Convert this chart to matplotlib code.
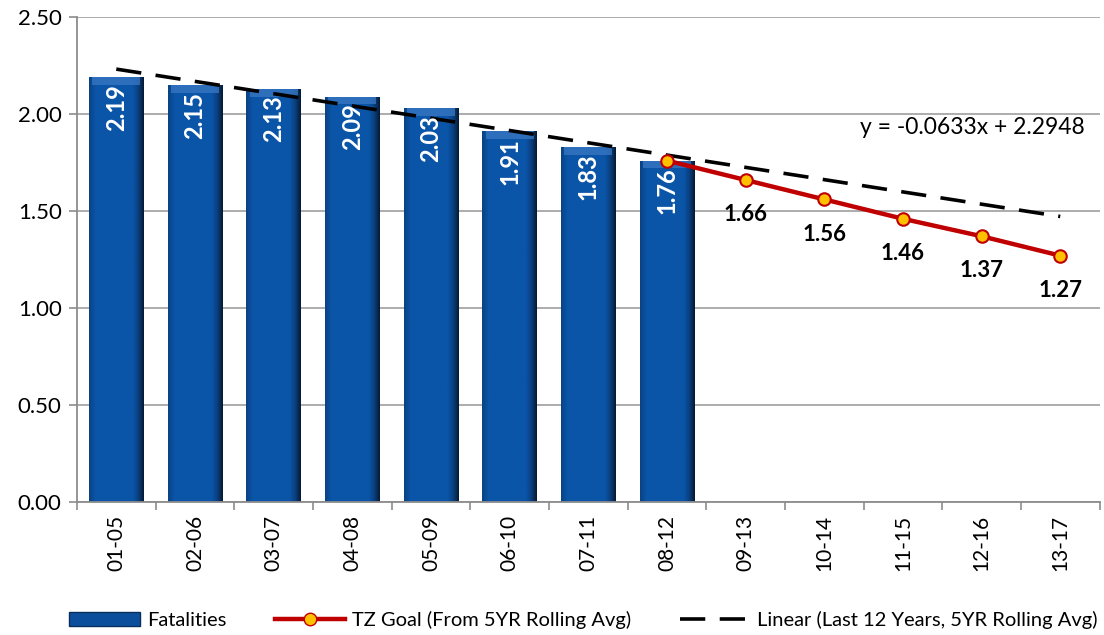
import numpy as np
import matplotlib
matplotlib.use("Agg")
import matplotlib.pyplot as plt
from matplotlib.patches import Rectangle
from matplotlib.lines import Line2D

plt.rcParams['font.family'] = ['Lato', 'DejaVu Sans']

categories = ["01-05", "02-06", "03-07", "04-08", "05-09", "06-10", "07-11",
              "08-12", "09-13", "10-14", "11-15", "12-16", "13-17"]
fatalities = [2.19, 2.15, 2.13, 2.09, 2.03, 1.91, 1.83, 1.76]
goal_labels = ["08-12", "09-13", "10-14", "11-15", "12-16", "13-17"]
goal_values = [1.76, 1.66, 1.56, 1.46, 1.37, 1.27]
trend_slope = -0.0633
trend_intercept = 2.2948
trend_text = "y = -0.0633x + 2.2948"

fig = plt.figure(figsize=(11.04, 6.35), dpi=100)
ax = fig.add_axes([0.0697, 0.2094, 0.9263, 0.7638])

x_all = np.arange(len(categories))
xb = np.arange(len(fatalities))
bw = 0.69
bars = ax.bar(xb, fatalities, width=bw, color="#0B55A8", zorder=2)

# gradient shading on the bars
g = np.linspace(0, 1, 200)
prof = np.ones_like(g)
prof = np.where(g < 0.12, 0.55 + 0.45 * g / 0.12, prof)
prof = np.where(g > 0.8, 1 - (g - 0.8) / 0.2, prof)
cmap = matplotlib.colors.LinearSegmentedColormap.from_list(
    "b", ["#051A33", "#0A3F7E", "#0B55A8"])
for b in bars:
    x0, w, h = b.get_x(), b.get_width(), b.get_height()
    im = ax.imshow(prof[np.newaxis, :], cmap=cmap, aspect="auto",
                   extent=[x0, x0 + w, 0, h], zorder=2.1, vmin=0, vmax=1,
                   interpolation="bilinear")
    im.set_clip_path(b)
    ax.add_patch(Rectangle((x0 + 0.04, h - 0.04), w - 0.08, 0.04,
                           facecolor="#3A78C4", edgecolor="none", zorder=2.2, alpha=0.75))

for xi, v in zip(xb, fatalities):
    ax.text(xi, v - 0.035, f"{v:.2f}", rotation=90, ha="center", va="top",
            color="white", fontsize=17, fontweight="bold", zorder=5)

# goal line
gx = [categories.index(c) for c in goal_labels]
ax.plot(gx, goal_values, color="#C00000", lw=3.2, marker="o", markersize=9,
        markerfacecolor="#FFC000", markeredgecolor="#C00000", markeredgewidth=1.5,
        zorder=4)
for xi, v in zip(gx[1:], goal_values[1:]):
    ax.annotate(f"{v:.2f}", (xi, v), xytext=(0, -25), textcoords="offset points",
                ha="center", va="center", fontsize=16, fontweight="bold", color="black",
                zorder=5)

# trendline
tx = np.array([x_all[0], x_all[-1]])
ty = trend_slope * (tx + 1) + trend_intercept
ax.plot(tx, ty, color="black", lw=2.6, dashes=(7, 4), zorder=3)
ax.text(12.31, 1.93, trend_text, ha="right", va="center", fontsize=16.5,
        color="black", zorder=3.5)

ax.set_xlim(-0.5, len(categories) - 0.5)
ax.set_ylim(0, 2.5)
ax.set_yticks(np.arange(0, 2.51, 0.5))
ax.set_yticklabels([f"{v:.2f}" for v in np.arange(0, 2.51, 0.5)], fontsize=16)
ax.set_xticks(x_all)
ax.set_xticklabels(categories, rotation=90, fontsize=15)
ax.set_xticks(np.arange(-0.5, len(categories), 1), minor=True)
ax.tick_params(axis="x", which="major", length=0, pad=9)
ax.tick_params(axis="x", which="minor", length=6, color="#8C8C8C", width=1.2)
ax.tick_params(axis="y", length=6, color="#8C8C8C", width=1.2, pad=5)
ax.yaxis.grid(True, color="#A6A6A6", lw=1.3, zorder=0)
ax.set_axisbelow(True)
for s in ["top", "right"]:
    ax.spines[s].set_visible(False)
for s in ["left", "bottom"]:
    ax.spines[s].set_color("#8C8C8C")
    ax.spines[s].set_linewidth(1.3)

h1 = Rectangle((0, 0), 1, 1, facecolor="#0B4F9C", edgecolor="#0A2E5C")
h2 = Line2D([], [], color="#C00000", lw=3.2, marker="o", markersize=9,
            markerfacecolor="#FFC000", markeredgecolor="#C00000")
h3 = Line2D([], [], color="black", lw=2.6, dashes=(7, 4))
fig.legend([h1, h2, h3],
           ["Fatalities", "TZ Goal (From 5YR Rolling Avg)",
            "Linear (Last 12 Years, 5YR Rolling Avg)"],
           loc="center", bbox_to_anchor=(0.5285, 0.024), ncol=3, frameon=False,
           fontsize=14.5, handlelength=3.5, handleheight=0.7, columnspacing=2.4,
           handletextpad=0.35)

fig.savefig("out.png", dpi=100)
